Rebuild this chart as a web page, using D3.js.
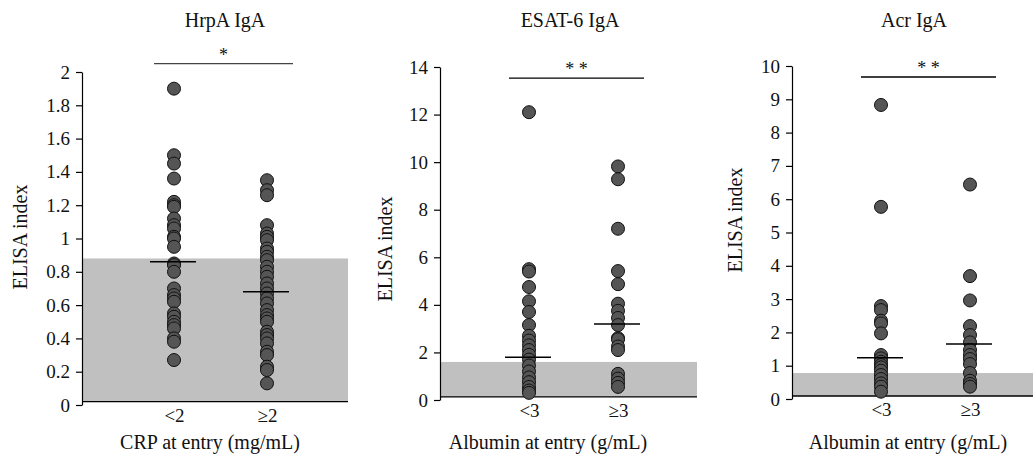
<!DOCTYPE html>
<html>
<head>
<meta charset="utf-8">
<script src="https://cdn.jsdelivr.net/npm/d3@7"></script>
<style>
  body { margin: 0; background: #fff; }
  svg { display: block; font-family: "Liberation Serif", "Times New Roman", serif; }
  svg text { font-family: "Liberation Serif", "Times New Roman", serif !important; }
</style>
</head>
<body>
<div id="chart"></div>
<script>
// ---- data ----
const titles = ["HrpA IgA", "ESAT-6 IgA", "Acr IgA"];
const xTitles = ["CRP at entry (mg/mL)", "Albumin at entry (g/mL)", "Albumin at entry (g/mL)"];
const groups = [["<2", "≥2"], ["<3", "≥3"], ["<3", "≥3"]];
const yMax = [2, 14, 10];
const yStep = [0.2, 2, 1];

const hrpaLow = [1.9, 1.5, 1.45, 1.36, 1.22, 1.2, 1.19, 1.12, 1.08, 1.06, 1.01, 1.0, 0.95,
  0.85, 0.84, 0.8, 0.7, 0.66, 0.64, 0.62, 0.55, 0.53, 0.5, 0.48, 0.46, 0.4, 0.38, 0.27];
const hrpaHigh = [1.35, 1.29, 1.26, 1.08, 1.03, 1.01, 0.99, 0.94, 0.92, 0.89, 0.87, 0.83, 0.8,
  0.77, 0.73, 0.7, 0.67, 0.64, 0.61, 0.57, 0.54, 0.52, 0.5, 0.44, 0.42, 0.4, 0.37, 0.32, 0.3,
  0.23, 0.21, 0.13];
const esatLow = [12.1, 5.5, 5.4, 4.75, 4.15, 3.7, 3.15, 2.7, 2.5, 2.3, 2.1, 1.9, 1.7, 1.45,
  1.2, 0.95, 0.75, 0.55, 0.4, 0.3];
const esatHigh = [9.82, 9.28, 7.2, 5.42, 4.87, 4.05, 3.75, 3.45, 3.15, 2.6, 2.55, 2.25, 2.1,
  1.1, 0.9, 0.72, 0.55];
const acrLow = [8.83, 5.77, 2.79, 2.67, 2.35, 2.27, 1.97, 1.32, 1.22, 1.12, 1.02, 0.95, 0.85,
  0.72, 0.6, 0.47, 0.37, 0.22];
const acrHigh = [6.44, 3.69, 2.96, 2.19, 1.92, 1.7, 1.47, 1.32, 1.2, 1.05, 0.78, 0.55, 0.45, 0.37];

const series = [[hrpaLow, hrpaHigh], [esatLow, esatHigh], [acrLow, acrHigh]];
const means = [[0.86, 0.68], [1.8, 3.19], [1.24, 1.65]];
const cutoffs = [0.88, 1.6, 0.78];      // top of grey band
const floors = [0.02, 0.13, 0.09];      // baseline under the band
const sigLevels = [2.05, 13.53, 9.67];
const sigMarks = ["*", "* *", "* *"];

// ---- layout per panel ----
const W = 1033, H = 457;
const panels = [
  { left: 82, right: 348, top: 72, bottom: 405, cx: [174, 267], titleX: 225, xTitleX: 210, yTitle: [20, 237] },
  { left: 440, right: 697, top: 67, bottom: 400, cx: [529, 618], titleX: 570, xTitleX: 548, yTitle: [385, 249] },
  { left: 792, right: 1033, top: 66, bottom: 399, cx: [881, 970], titleX: 914, xTitleX: 908, yTitle: [735, 220] }
];

const svg = d3.select("#chart").append("svg")
  .attr("width", W)
  .attr("height", H);

panels.forEach((p, i) => {
  const g = svg.append("g");

  const y = d3.scaleLinear().domain([0, yMax[i]]).range([p.bottom, p.top]);
  const x = d3.scaleOrdinal().domain(groups[i]).range(p.cx);

  // grey reference band
  g.append("rect")
    .attr("x", p.left)
    .attr("y", y(cutoffs[i]))
    .attr("width", p.right - p.left)
    .attr("height", y(floors[i]) - y(cutoffs[i]))
    .attr("fill", "#c0c0c0");

  g.append("line")
    .attr("x1", p.left).attr("x2", p.right)
    .attr("y1", y(floors[i])).attr("y2", y(floors[i]))
    .attr("stroke", "#000")
    .attr("stroke-width", 1.3);

  // y axis
  const ticks = d3.range(0, yMax[i] + yStep[i] / 2, yStep[i]);
  const yAxis = g.append("g")
    .attr("transform", `translate(${p.left},0)`)
    .call(d3.axisLeft(y).tickValues(ticks).tickSize(6).tickSizeOuter(0).tickPadding(6)
      .tickFormat(d => String(+d.toFixed(1))));
  yAxis.selectAll("text").attr("fill", "#111").style("font-size", "19px");
  yAxis.selectAll("line, path").attr("stroke", "#000").attr("stroke-width", 1.2);

  // category labels
  const xAxis = g.append("g")
    .attr("transform", `translate(0,${p.bottom})`)
    .call(d3.axisBottom(x).tickSize(0).tickPadding(4));
  xAxis.select(".domain").remove();
  xAxis.selectAll("text").attr("fill", "#111").style("font-size", "19px");

  // dots
  series[i].forEach((vals, k) => {
    g.append("g").selectAll("circle")
      .data(vals)
      .join("circle")
      .attr("cx", x(groups[i][k]))
      .attr("cy", d => y(d))
      .attr("r", 6.5)
      .attr("fill", "#555")
      .attr("stroke", "#111")
      .attr("stroke-width", 1);
  });

  // mean lines
  g.selectAll(".mean")
    .data(means[i])
    .join("line")
    .attr("x1", (d, k) => x(groups[i][k]) - 24)
    .attr("x2", (d, k) => x(groups[i][k]) + 22)
    .attr("y1", d => y(d))
    .attr("y2", d => y(d))
    .attr("stroke", "#000")
    .attr("stroke-width", 1.5);

  // significance bar
  const sx0 = x(groups[i][0]) - 20, sx1 = x(groups[i][1]) + 26;
  g.append("line")
    .attr("x1", sx0).attr("x2", sx1)
    .attr("y1", y(sigLevels[i])).attr("y2", y(sigLevels[i]))
    .attr("stroke", i === 0 ? "#444" : "#000")
    .attr("stroke-width", 1.3);
  g.append("text")
    .attr("x", (sx0 + sx1) / 2)
    .attr("y", y(sigLevels[i]) - 3)
    .attr("text-anchor", "middle")
    .attr("font-size", 18)
    .attr("fill", "#111")
    .text(sigMarks[i]);

  // titles
  g.append("text")
    .attr("x", p.titleX).attr("y", 27)
    .attr("text-anchor", "middle")
    .attr("font-size", 20)
    .attr("fill", "#111")
    .text(titles[i]);

  g.append("text")
    .attr("x", p.xTitleX).attr("y", 449)
    .attr("text-anchor", "middle")
    .attr("font-size", 20)
    .attr("fill", "#111")
    .text(xTitles[i]);

  g.append("text")
    .attr("transform", `translate(${p.yTitle[0]},${p.yTitle[1]}) rotate(-90)`)
    .attr("dy", "0.35em")
    .attr("text-anchor", "middle")
    .attr("font-size", 20)
    .attr("fill", "#111")
    .text("ELISA index");
});
</script>
</body>
</html>
